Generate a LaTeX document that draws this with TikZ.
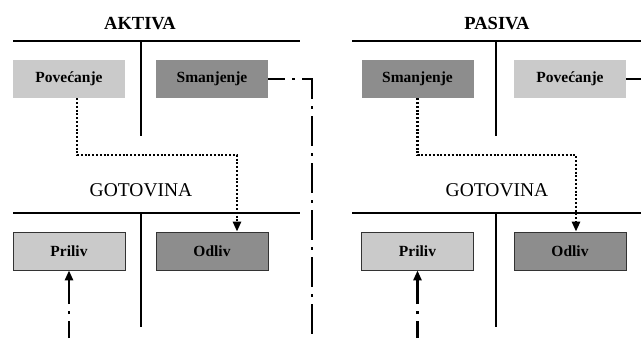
\documentclass[tikz,border=0pt]{standalone}
\usepackage{fontspec}
\setmainfont{Liberation Serif}
\usetikzlibrary{shapes.geometric, arrows, arrows.meta}
\definecolor{lightbox}{RGB}{202,202,202}
\definecolor{darkbox}{RGB}{141,141,141}
\tikzstyle{title} = [font=\fontsize{18.5}{20}\selectfont\bfseries]
\tikzstyle{cash} = [font=\fontsize{19.5}{22}\selectfont]
\tikzstyle{incr} = [rectangle, minimum width=112pt, minimum height=38pt, text centered, fill=lightbox, font=\fontsize{15.5}{17}\selectfont\bfseries]
\tikzstyle{decr} = [rectangle, minimum width=112pt, minimum height=38pt, text centered, fill=darkbox, font=\fontsize{15.5}{17}\selectfont\bfseries]
\tikzstyle{framed} = [draw=black!80, line width=0.8pt]
\tikzstyle{rule} = [line width=1.8pt]
\tikzstyle{divider} = [line width=1.2pt]
\tikzstyle{dotarrow} = [line width=2.5pt, dash pattern=on 2pt off 1.8pt, ->, >={Triangle[length=10pt,width=8pt]}]
\tikzstyle{dashdot} = [line width=2.8pt, dash pattern=on 30pt off 7pt on 3pt off 7pt, dash phase=13pt]
\tikzstyle{dasharrow} = [dashdot, ->, >={Triangle[length=10pt,width=8pt]}]

\begin{document}
\begin{tikzpicture}[x=1pt, y=-1pt, node distance=143pt]
		\useasboundingbox (0,0) rectangle (641,338);
		% aktiva / gotovina
		\node (akt) [title] at (140,24) {AKTIVA};
		\draw [rule] (13,41) -- (300,41);
		\draw [divider] (141,41) -- (141,136);
		\node (pov1) [incr] at (69,79) {Povećanje};
		\node (sma1) [decr, right of=pov1] {Smanjenje};
		\node (got1) [cash] at (141,190) {GOTOVINA};
		\draw [rule] (13,213) -- (300,213);
		\draw [divider] (141,213) -- (141,327);
		\node (pri1) [incr, framed, below of=pov1, yshift=-29pt] {Priliv};
		\node (odl1) [decr, framed, right of=pri1] {Odliv};
		
		% pasiva / gotovina
		\node (pas) [title] at (497,24) {PASIVA};
		\draw [rule] (352,41) -- (641,41);
		\draw [divider] (496,41) -- (496,136);
		\node (sma2) [decr] at (417.5,79) {Smanjenje};
		\node (pov2) [incr, right of=sma2, xshift=9.5pt] {Povećanje};
		\node (got2) [cash] at (497,190) {GOTOVINA};
		\draw [rule] (352,213) -- (641,213);
		\draw [divider] (496,213) -- (496,327);
		\node (pri2) [incr, framed, below of=sma2, yshift=-29pt] {Priliv};
		\node (odl2) [decr, framed, right of=pri2, xshift=9.5pt] {Odliv};
		
		\coordinate (e1) at (312,338);
		\coordinate (e2) at (pri1.south |- e1);
		\coordinate (e3) at (641,79);
		\coordinate (e4) at (pri2.south |- e1);
		
		\draw [dotarrow] ([xshift=8pt]pov1.south) -- ++(0,57) -| ([xshift=25pt]odl1.north);
		\draw [dotarrow] (sma2.south) -- ++(0,57) -| ([xshift=6pt]odl2.north);
		\draw [dashdot] (sma1.east) -| (e1);
		\draw [dasharrow] (e2) -- (pri1.south);
		\draw [dashdot] (pov2.east) -- (e3);
		\draw [dasharrow] (e4) -- (pri2.south);
		\end{tikzpicture}
\end{document}
